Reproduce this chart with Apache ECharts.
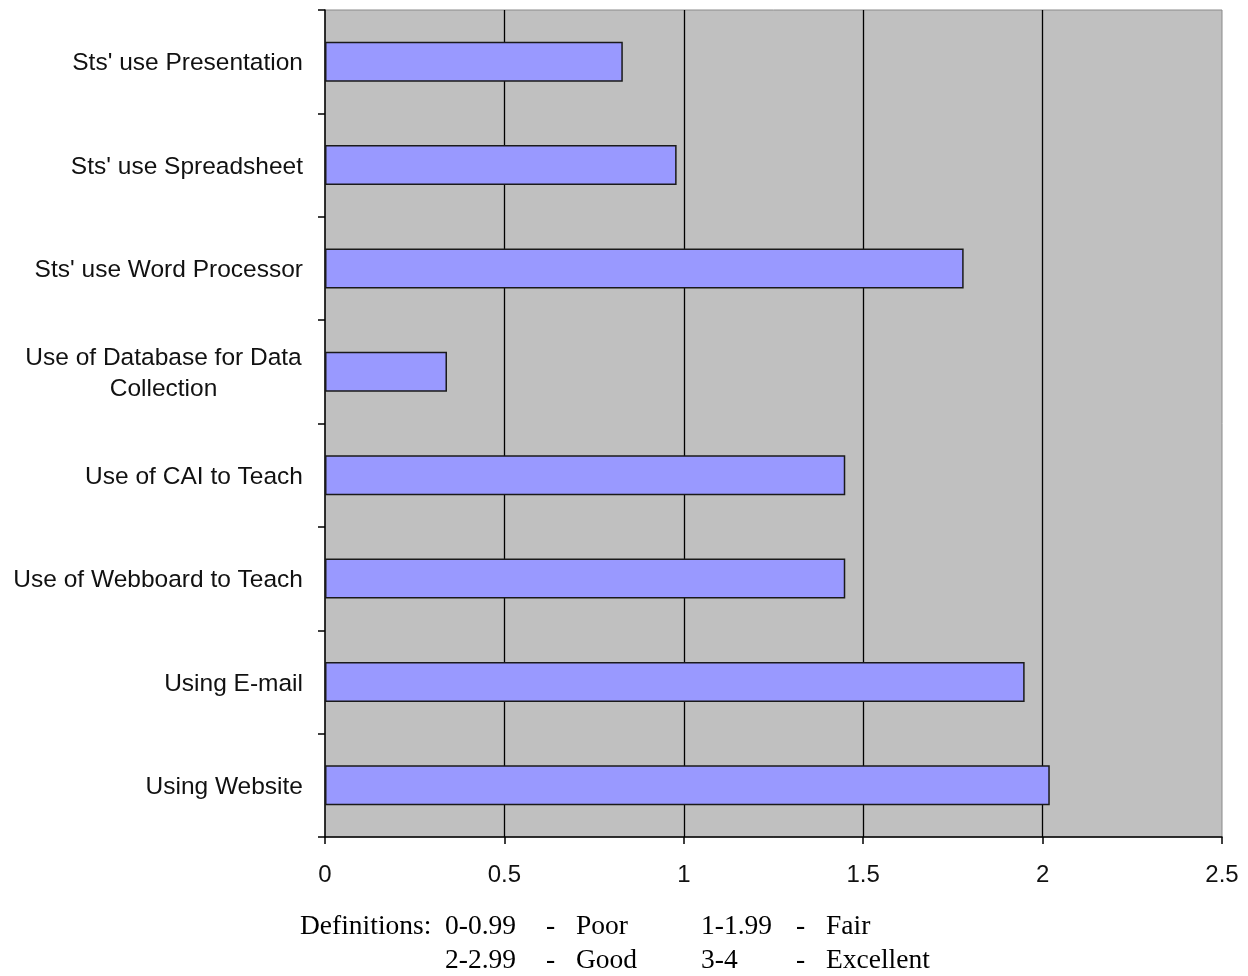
<!DOCTYPE html>
<html>
<head>
<meta charset="utf-8">
<style>
  html, body { margin: 0; padding: 0; background: #fff; }
  #chart { width: 1248px; height: 976px; }
</style>
<script src="https://cdn.jsdelivr.net/npm/echarts@6/dist/echarts.min.js"></script>
</head>
<body>
<div id="chart"></div>
<script>
// Technology-use categories, top to bottom
const categories = [
  "Sts' use Presentation",
  "Sts' use Spreadsheet",
  "Sts' use Word Processor",
  "Use of Database for Data\nCollection",
  "Use of CAI to Teach",
  "Use of Webboard to Teach",
  "Using E-mail",
  "Using Website"
];
// Mean rating per category
const scores = [0.83, 0.98, 1.78, 0.34, 1.45, 1.45, 1.95, 2.02];
// Value-axis ticks
const xTicks = [0, 0.5, 1, 1.5, 2, 2.5];
// Rating scale key shown below the chart
const definitionRows = [
  ["Definitions:", "0-0.99", "-", "Poor", "1-1.99", "-", "Fair"],
  ["", "2-2.99", "-", "Good", "3-4", "-", "Excellent"]
];

const chart = echarts.init(document.getElementById('chart'), null, { renderer: 'canvas' });

const sansFont = '"Liberation Sans", Arial, sans-serif';
const keyCols = [300, 445, 546, 576, 701, 796, 826];
const keyRowsY = [927, 961];
const keyText = [];
definitionRows.forEach((row, r) => {
  row.forEach((t, c) => {
    if (!t) return;
    keyText.push({
      type: 'text',
      x: keyCols[c],
      y: keyRowsY[r],
      style: {
        text: t,
        font: '27.5px "Liberation Serif", "Times New Roman", serif',
        fill: '#000',
        verticalAlign: 'middle',
        align: 'left'
      }
    });
  });
});

chart.setOption({
  animation: false,
  backgroundColor: '#ffffff',
  grid: {
    left: 325,
    right: 26,
    top: 10,
    bottom: 139,
    show: true,
    backgroundColor: '#C0C0C0',
    borderColor: '#8a8a8a',
    borderWidth: 1
  },
  xAxis: {
    type: 'value',
    min: xTicks[0],
    max: xTicks[xTicks.length - 1],
    interval: 0.5,
    axisLine: { show: true, onZero: false, lineStyle: { color: '#000', width: 1.5 } },
    axisTick: { show: true, length: 7, lineStyle: { color: '#000', width: 1.5 } },
    axisLabel: {
      margin: 26,
      color: '#111',
      fontFamily: sansFont,
      fontSize: 24,
      formatter: v => String(v)
    },
    splitLine: { show: true, showMinLine: false, showMaxLine: false, lineStyle: { color: '#000', width: 1.3 } }
  },
  yAxis: {
    type: 'category',
    data: categories,
    inverse: true,
    axisLine: { show: true, lineStyle: { color: '#000', width: 1.5 } },
    axisTick: { show: true, length: 7, inside: false, alignWithLabel: false, lineStyle: { color: '#000', width: 1.5 } },
    axisLabel: {
      margin: 22,
      color: '#111',
      fontFamily: sansFont,
      fontSize: 24.5,
      lineHeight: 31,
      padding: [4, 0, 0, 0],
      formatter: v => {
        if (v.indexOf('\n') < 0) return v;
        return v.split('\n').map(s => '{w|' + s + '}').join('\n');
      },
      rich: {
        w: {
          width: 279,
          align: 'center',
          fontFamily: sansFont,
          fontSize: 24.5,
          lineHeight: 31,
          color: '#111'
        }
      }
    },
    splitLine: { show: false }
  },
  series: [{
    type: 'bar',
    data: scores,
    barWidth: 40,
    itemStyle: {
      color: '#9999FF',
      borderColor: '#1a1a1a',
      borderWidth: 1.5
    }
  }],
  graphic: keyText
});
</script>
</body>
</html>
